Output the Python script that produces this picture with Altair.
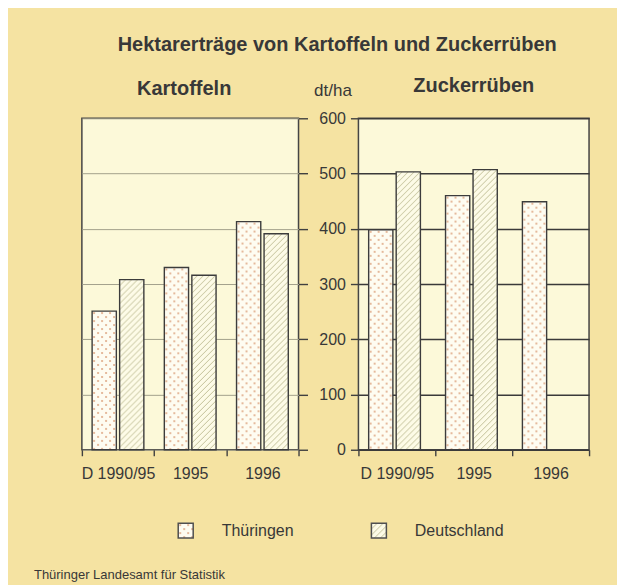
import base64
import altair as alt
import pandas as pd

# ---- data ----
years = ["D 1990/95", "1995", "1996"]
series = ["Thüringen", "Deutschland"]
kart_thu = [251, 330, 413]
kart_deu = [308, 316, 391]
zuck_thu = [398, 460, 449]
zuck_deu = [503, 507, None]
y_ticks = [0, 100, 200, 300, 400, 500, 600]


def table(thu, deu):
    rows = []
    for j, a, b in zip(years, thu, deu):
        if a is not None:
            rows.append({"jahr": j, "serie": series[0], "wert": a})
        if b is not None:
            rows.append({"jahr": j, "serie": series[1], "wert": b})
    return pd.DataFrame(rows)


FONT = "Liberation Sans"
INK = "#383838"
BG = "#f5e3a2"
PANEL = "#fcf9d9"
FRAME = "#454545"


def svg_uri(svg):
    return "data:image/svg+xml;base64," + base64.b64encode(svg.encode("utf-8")).decode("ascii")


DOTS = svg_uri(
    "<svg xmlns='http://www.w3.org/2000/svg' width='100%' height='100%'>"
    "<defs><pattern id='p' width='8' height='8' patternUnits='userSpaceOnUse'>"
    "<rect width='8' height='8' fill='#fefcf1'/>"
    "<circle cx='2' cy='2' r='0.9' fill='#d99a72'/>"
    "<circle cx='6' cy='6' r='0.9' fill='#d99a72'/>"
    "</pattern></defs><rect width='100%' height='100%' fill='url(#p)'/></svg>"
)
HATCH = svg_uri(
    "<svg xmlns='http://www.w3.org/2000/svg' width='100%' height='100%'>"
    "<defs><pattern id='h' width='6' height='6' patternUnits='userSpaceOnUse'>"
    "<rect width='6' height='6' fill='#fdfbe7'/>"
    "<path d='M-1,1 L1,-1 M0,6 L6,0 M5,7 L7,5' stroke='#c2c098' stroke-width='1'/>"
    "</pattern></defs><rect width='100%' height='100%' fill='url(#h)'/></svg>"
)


def panel(df, w, left, title, p_in, p_out, t_offset, t_dx):
    xs = alt.X(
        "jahr:N",
        sort=years,
        scale=alt.Scale(domain=years, paddingInner=0, paddingOuter=0),
        axis=alt.Axis(title=None, labelAngle=0, tickBand="extent", tickSize=6,
                      labelPadding=10, domain=False, grid=False),
    )
    xo = alt.XOffset("serie:N",
                     scale=alt.Scale(domain=series, paddingInner=p_in, paddingOuter=p_out))
    if left:
        yax = alt.Axis(orient="right", values=y_ticks, tickSize=9, labelAlign="right",
                       labelPadding=38, domain=False, grid=True, gridColor="#a3a18c",
                       gridWidth=1, title="dt/ha", titleAngle=0, titleX=34, titleY=-28,
                       titleFontSize=17, titleFontWeight="normal", titleAlign="center",
                       titleBaseline="middle")
    else:
        yax = alt.Axis(orient="left", values=y_ticks, tickSize=8, labels=False,
                       domain=False, grid=True, gridColor="#3a3a3a", gridWidth=1.5,
                       title=None)
    ys = alt.Y("wert:Q", scale=alt.Scale(domain=[0, 600]), axis=yax)
    base = alt.Chart(df)
    img_t = base.transform_filter(alt.datum.serie == series[0]).mark_image(aspect=False).encode(
        x=xs, xOffset=xo, y=ys, y2=alt.Y2(datum=0), url=alt.value(DOTS))
    img_d = base.transform_filter(alt.datum.serie == series[1]).mark_image(aspect=False).encode(
        x=xs, xOffset=xo, y=ys, y2=alt.Y2(datum=0), url=alt.value(HATCH))
    outline = base.mark_bar(fillOpacity=0, stroke="#3c3c3c", strokeWidth=1.4).encode(
        x=xs, xOffset=xo, y=ys)
    return alt.layer(img_t, img_d, outline).properties(
        width=w,
        height=332,
        title=alt.TitleParams(title, fontSize=20, fontWeight="bold", font=FONT, color=INK,
                              anchor="middle", offset=t_offset, dx=t_dx),
        view=alt.ViewBackground(fill=PANEL, stroke=FRAME, strokeWidth=1.5),
    )


left = panel(table(kart_thu, kart_deu), 217, True, "Kartoffeln", 0.12, 0.372, -18, -6)
right = panel(table(zuck_thu, zuck_deu), 231, False, "Zuckerrüben", 0.14, 0.42, 22, 0)

top = alt.hconcat(left, right, spacing=60, bounds="flush")

leg_df = pd.DataFrame({"serie": series})
lx = alt.X("serie:N", scale=alt.Scale(type="point", domain=series, range=[104, 297.5], padding=0),
           axis=None)
leg_base = alt.Chart(leg_df)
leg_img_t = leg_base.transform_filter(alt.datum.serie == series[0]).mark_image(
    width=15, height=15, aspect=False, align="center", baseline="middle").encode(
    x=lx, y=alt.value(8), url=alt.value(DOTS))
leg_img_d = leg_base.transform_filter(alt.datum.serie == series[1]).mark_image(
    width=15, height=15, aspect=False, align="center", baseline="middle").encode(
    x=lx, y=alt.value(8), url=alt.value(HATCH))
leg_box = leg_base.mark_square(size=225, filled=False, stroke="#505050", strokeWidth=1.5,
                               opacity=1).encode(x=lx, y=alt.value(8))
leg_txt = leg_base.mark_text(align="left", dx=36, fontSize=16, font=FONT, color=INK).encode(
    x=lx, y=alt.value(8), text="serie:N")
legend = alt.layer(leg_img_t, leg_img_d, leg_box, leg_txt).properties(
    width=420,
    height=16,
    title=alt.TitleParams("Thüringer Landesamt für Statistik", orient="bottom", anchor="start",
                          fontSize=13, fontWeight="normal", font=FONT, color=INK,
                          dx=-48, offset=28),
    view=alt.ViewBackground(stroke=None),
)

chart = alt.vconcat(top, legend, spacing=37).properties(
    title=alt.TitleParams("Hektarerträge von Kartoffeln und Zuckerrüben", fontSize=20,
                          fontWeight="bold", font=FONT, color=INK, anchor="middle", offset=20,
                          dx=25),
    background=BG,
    padding={"left": 26, "top": 26, "right": 26, "bottom": 2},
).configure_axis(
    labelFont=FONT, labelFontSize=16, labelColor=INK, tickColor="#404040", tickWidth=1.4,
    titleFont=FONT, titleColor=INK,
).configure_view(strokeWidth=0)

chart.save("out.html", embed_options={"renderer": "svg", "actions": False})
